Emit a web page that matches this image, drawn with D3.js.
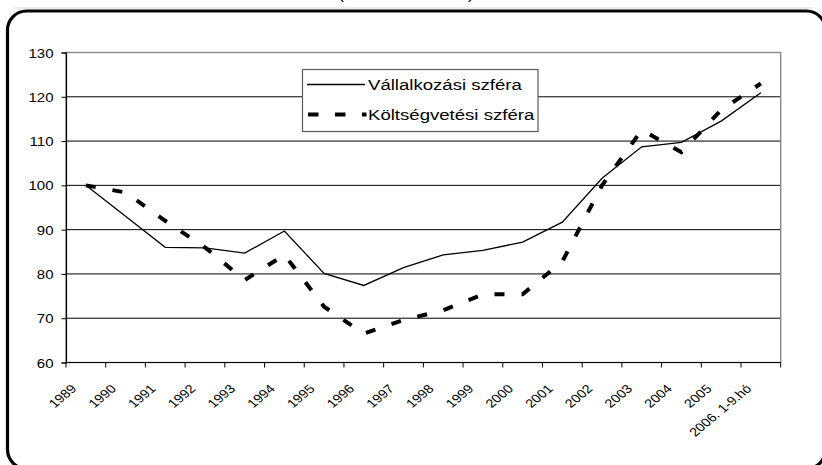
<!DOCTYPE html>
<html>
<head>
<meta charset="utf-8">
<script src="https://cdn.jsdelivr.net/npm/d3@7"></script>
<style>
  html, body { margin: 0; padding: 0; background: #fff; }
  svg { display: block; font-family: "Liberation Sans", Arial, sans-serif; }
</style>
</head>
<body>
<svg id="chart" width="822" height="465"></svg>
<script>
// Years on the category axis
const categories = ["1989", "1990", "1991", "1992", "1993", "1994", "1995", "1996", "1997",
  "1998", "1999", "2000", "2001", "2002", "2003", "2004", "2005", "2006. 1-9.hó"];

// Index values (1989 = 100)
const vallalkozasi = [100, 93.0, 86.0, 85.9, 84.7, 89.7, 80.1, 77.4, 81.4,
  84.3, 85.3, 87.2, 91.7, 101.6, 108.7, 109.7, 114.5, 120.9];
const koltsegvetesi = [100, 98.4, 92.0, 86.0, 78.6, 84.3, 72.6, 66.5, 69.6,
  71.8, 75.4, 75.4, 82.8, 100.0, 112.5, 107.5, 117.0, 123.0];

const yTicks = [60, 70, 80, 90, 100, 110, 120, 130];
const seriesNames = ["Vállalkozási szféra", "Költségvetési szféra"];

const svg = d3.select("#chart");
const sx = 1.2; // horizontal text stretch

// Title line (sits above the frame, mostly outside the page) and the rounded frame
svg.append("line")
  .attr("x1", 14).attr("x2", 812).attr("y1", 8).attr("y2", 8)
  .attr("stroke", "#d6d6d6").attr("stroke-width", 1);
svg.append("text")
  .attr("transform", `translate(406,-1.5) scale(1.24,1)`)
  .attr("text-anchor", "middle")
  .attr("font-size", 15)
  .text("(1989. év = 100)");
svg.append("rect")
  .attr("x", 7.5).attr("y", 11).attr("width", 818).attr("height", 457.6)
  .attr("rx", 19).attr("ry", 19)
  .attr("fill", "none").attr("stroke", "#000").attr("stroke-width", 3.2);

const plotLeft = 66, plotRight = 780.7, plotTop = 52.5, plotBottom = 362.5;

const x = d3.scalePoint().domain(categories).range([plotLeft, plotRight]).padding(0.5);
const step = x.step();
const y = d3.scaleLinear().domain([60, 130]).range([plotBottom, plotTop]);

// Gridlines
svg.append("g").selectAll("line")
  .data(yTicks.filter(v => v > 60 && v < 130))
  .join("line")
  .attr("x1", plotLeft).attr("x2", plotRight)
  .attr("y1", d => y(d)).attr("y2", d => y(d))
  .attr("stroke", "#000").attr("stroke-width", 1);

// Plot area border
svg.append("rect")
  .attr("x", plotLeft).attr("y", plotTop)
  .attr("width", plotRight - plotLeft).attr("height", plotBottom - plotTop)
  .attr("fill", "none").attr("stroke", "#8a8a8a").attr("stroke-width", 1.4);

// Y axis
const yAxis = d3.axisLeft(y).tickValues(yTicks).tickSize(4.5).tickFormat("");
const gy = svg.append("g").attr("transform", `translate(${plotLeft},0)`).call(yAxis);
gy.select(".domain").attr("stroke", "#000").attr("stroke-width", 1.2);
gy.selectAll(".tick line").attr("stroke", "#000");
gy.selectAll(".tick").append("text")
  .attr("fill", "#000")
  .attr("text-anchor", "end")
  .attr("font-size", 12.5)
  .attr("transform", `translate(-12.5,4.5) scale(${sx},1)`)
  .text(d => d);

// X axis: ticks on category boundaries
const boundaries = d3.range(categories.length + 1).map(i => plotLeft + i * step);
const gx = svg.append("g");
gx.append("line")
  .attr("x1", plotLeft).attr("x2", plotRight).attr("y1", plotBottom).attr("y2", plotBottom)
  .attr("stroke", "#000").attr("stroke-width", 1.2);
gx.selectAll("line.tick")
  .data(boundaries)
  .join("line").attr("class", "tick")
  .attr("x1", d => d).attr("x2", d => d)
  .attr("y1", plotBottom).attr("y2", plotBottom + 5)
  .attr("stroke", "#000").attr("stroke-width", 1);
gx.selectAll("text")
  .data(categories)
  .join("text")
  .attr("text-anchor", "end")
  .attr("font-size", 12)
  .attr("transform", d => `translate(${x(d) - 8.5},389.5) scale(${sx},1) rotate(-45)`)
  .text(d => d);

// Series lines
const line = d3.line()
  .x((d, i) => x(categories[i]))
  .y(d => y(d));

svg.append("path")
  .datum(vallalkozasi)
  .attr("d", line)
  .attr("fill", "none")
  .attr("stroke", "#000")
  .attr("stroke-width", 1.3)
  .attr("stroke-linejoin", "miter");

svg.append("path")
  .datum(koltsegvetesi)
  .attr("d", line)
  .attr("fill", "none")
  .attr("stroke", "#000")
  .attr("stroke-width", 4)
  .attr("stroke-dasharray", "10,17")
  .attr("stroke-linecap", "butt");

// Legend
const legend = svg.append("g");
legend.append("rect")
  .attr("x", 302.5).attr("y", 69.5).attr("width", 235.5).attr("height", 62)
  .attr("fill", "#fff").attr("stroke", "#5a5a5a").attr("stroke-width", 1.2);
legend.append("line")
  .attr("x1", 307).attr("x2", 365).attr("y1", 84.5).attr("y2", 84.5)
  .attr("stroke", "#000").attr("stroke-width", 1.3);
legend.append("line")
  .attr("x1", 308).attr("x2", 366.5).attr("y1", 114.5).attr("y2", 114.5)
  .attr("stroke", "#000").attr("stroke-width", 4)
  .attr("stroke-dasharray", "10.5,16.5");
legend.selectAll("text.lbl")
  .data(seriesNames)
  .join("text").attr("class", "lbl")
  .attr("font-size", 15)
  .attr("transform", (d, i) => `translate(368,${89.8 + i * 30}) scale(1.24,1)`)
  .text(d => d);
</script>
</body>
</html>
